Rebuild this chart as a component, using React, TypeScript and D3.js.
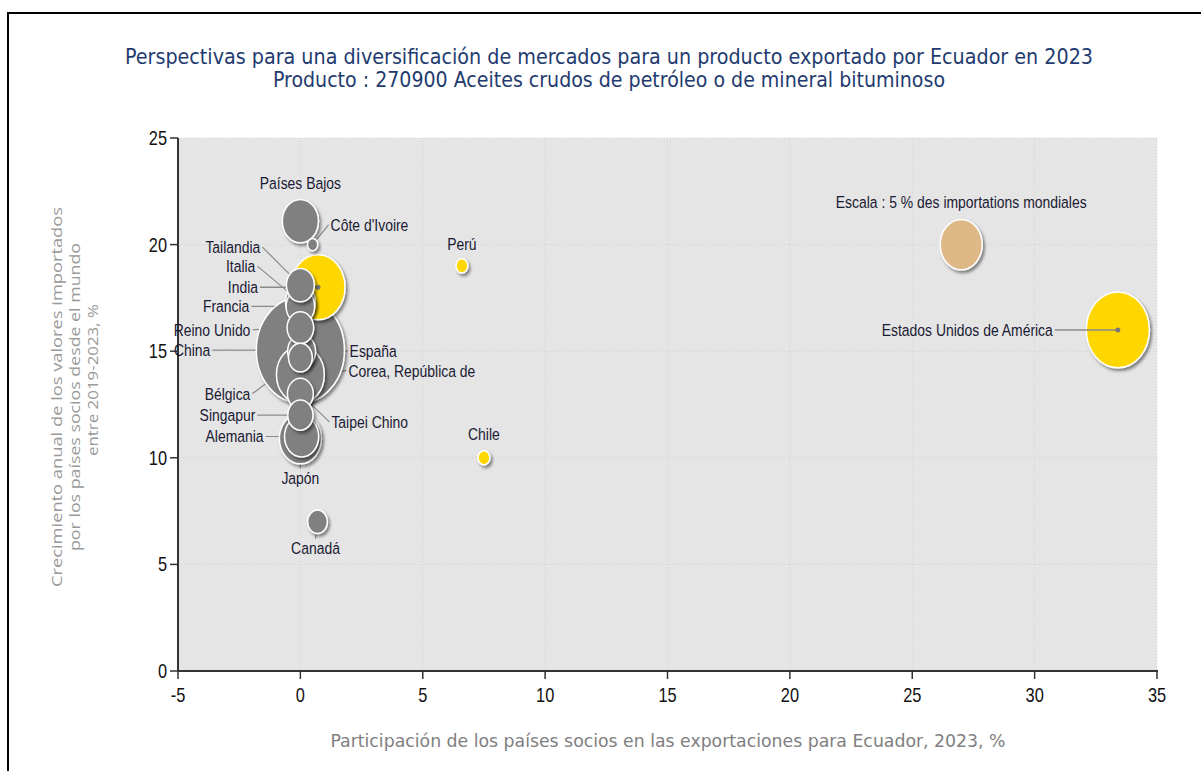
import React, { useEffect, useRef } from 'react';
import * as d3 from 'd3';

// data
const countries = ['China', 'Estados Unidos de América', 'India', 'Corea, República de', 'Japón', 'Países Bajos', 'Alemania', 'Italia', 'Francia', 'España', 'Tailandia', 'Reino Unido', 'Taipei Chino', 'Singapur', 'Bélgica', 'Canadá', 'Perú', 'Chile', "Côte d'Ivoire"];
const exportShare = [0, 33.4, 0.72, 0, 0, 0, 0.05, 0, 0, 0.05, 0, 0, 0, 0, 0, 0.7, 6.6, 7.5, 0.5];
const importGrowth = [15.05, 16.0, 18.0, 13.9, 10.9, 21.1, 11.0, 17.3, 17.1, 15.0, 18.1, 16.1, 13.0, 12.0, 14.7, 7.0, 19.0, 10.0, 20.0];
const worldImportShare = [22, 11.3, 8.3, 6.5, 5.0, 3.7, 3.3, 2.5, 2.3, 2.2, 2.2, 2.0, 1.9, 1.8, 1.6, 1.1, 0.4, 0.4, 0.3];
const highlighted = ['Estados Unidos de América', 'India', 'Perú', 'Chile'];

const xTicks = [-5, 0, 5, 10, 15, 20, 25, 30, 35];
const yTicks = [0, 5, 10, 15, 20, 25];

const scaleRef = { x: 27, y: 20, value: 5, label: 'Escala : 5 % des importations mondiales' };

const titleLines = [
  'Perspectivas para una diversificación de mercados para un producto exportado por Ecuador en 2023',
  'Producto : 270900 Aceites crudos de petróleo o de mineral bituminoso',
];
const xTitle = 'Participación de los países socios en las exportaciones para Ecuador, 2023, %';
const yTitle = ['Crecimiento anual de los valores importados', 'por los países socios desde el mundo', 'entre 2019-2023, %'];

// label placement: pixel offset from bubble centre, anchor, leader line?
const labelLayout: Record<string, [number, number, string, boolean]> = {
  'China': [-90, 0, 'end', true],
  'Estados Unidos de América': [-65, 0, 'end', true],
  'India': [-60, 0, 'end', true],
  'Corea, República de': [48, -4, 'start', true],
  'Japón': [0, 39, 'middle', true],
  'Países Bajos': [0, -38, 'middle', false],
  'Alemania': [-38, 0, 'end', true],
  'Italia': [-45, -36, 'end', true],
  'Francia': [-51, 0, 'end', true],
  'España': [48, 0, 'start', true],
  'Tailandia': [-40, -38, 'end', true],
  'Reino Unido': [-50, 2, 'end', true],
  'Taipei Chino': [31, 28, 'start', true],
  'Singapur': [-45, 0, 'end', true],
  'Bélgica': [-50, 36, 'end', true],
  'Canadá': [-2, 26, 'middle', true],
  'Perú': [0, -22, 'middle', false],
  'Chile': [0, -24, 'middle', false],
  "Côte d'Ivoire": [18, -20, 'start', true],
};

// Arial Narrow look-alike: Liberation Sans squeezed horizontally
const SANS = '"Liberation Sans", Arial, sans-serif';
const COND = '"DejaVu Sans Condensed", "Liberation Sans Narrow", sans-serif';

const App = () => {
  const svgRef = useRef<SVGSVGElement>(null);

  useEffect(() => {
    const svg = d3.select(svgRef.current);
    svg.selectAll('*').remove();

    const x = d3.scaleLinear().domain([-5, 35]).range([178, 1157]);
    const y = d3.scaleLinear().domain([0, 25]).range([671, 138]);
    const r = d3.scaleSqrt().domain([0, 5]).range([0, 21]);
    const aspect = 1.2; // bubbles come out slightly taller than wide

    const narrowText = (g: any, px: number, py: number, txt: string, anchor: string, size: number, fill = '#1a1a33') =>
      g.append('text')
        .attr('transform', `translate(${px},${py}) scale(0.82,1)`)
        .attr('text-anchor', anchor)
        .style('font-family', SANS).style('font-size', `${size}px`).style('fill', fill)
        .text(txt);

    // frame
    svg.append('line').attr('x1', 8).attr('x2', 8).attr('y1', 12).attr('y2', 771)
      .attr('stroke', '#000').attr('stroke-width', 2);
    svg.append('line').attr('x1', 7).attr('x2', 1201).attr('y1', 13).attr('y2', 13)
      .attr('stroke', '#000').attr('stroke-width', 2);

    const defs = svg.append('defs');
    const f = defs.append('filter').attr('id', 'shadow')
      .attr('x', '-30%').attr('y', '-30%').attr('width', '170%').attr('height', '170%');
    f.append('feDropShadow').attr('dx', 2).attr('dy', 2.5).attr('stdDeviation', 1.4)
      .attr('flood-color', '#000').attr('flood-opacity', 0.45);

    // title
    titleLines.forEach((t, i) => {
      svg.append('text')
        .attr('x', 609).attr('y', 64 + i * 23)
        .attr('text-anchor', 'middle')
        .attr('textLength', i === 0 ? 968 : 672)
        .attr('lengthAdjust', 'spacingAndGlyphs')
        .style('font-family', COND).style('font-size', '21px')
        .style('fill', '#1f3b6f')
        .text(t);
    });

    // plot background
    svg.append('rect').attr('x', x(-5)).attr('y', y(25))
      .attr('width', x(35) - x(-5)).attr('height', y(0) - y(25))
      .attr('fill', '#e5e5e5');

    // grid
    const grid = svg.append('g');
    xTicks.slice(1).forEach(t => {
      grid.append('line').attr('x1', x(t)).attr('x2', x(t)).attr('y1', y(25)).attr('y2', y(0))
        .attr('stroke', '#d2d2d2').attr('stroke-dasharray', '1,2');
    });
    yTicks.slice(1).forEach(t => {
      grid.append('line').attr('x1', x(-5)).attr('x2', x(35)).attr('y1', y(t)).attr('y2', y(t))
        .attr('stroke', '#d2d2d2').attr('stroke-dasharray', '1,2');
    });

    // axes
    const axisColor = '#333';
    svg.append('line').attr('x1', x(-5)).attr('x2', x(-5)).attr('y1', y(25)).attr('y2', y(0) + 1)
      .attr('stroke', axisColor).attr('stroke-width', 2);
    svg.append('line').attr('x1', x(-5) - 1).attr('x2', x(35) + 1).attr('y1', y(0)).attr('y2', y(0))
      .attr('stroke', axisColor).attr('stroke-width', 2);

    yTicks.forEach(t => {
      svg.append('line').attr('x1', x(-5) - 8).attr('x2', x(-5)).attr('y1', y(t)).attr('y2', y(t))
        .attr('stroke', axisColor).attr('stroke-width', 1.5);
      narrowText(svg, x(-5) - 11, y(t) + 7, String(t), 'end', 20, '#111');
    });
    xTicks.forEach(t => {
      svg.append('line').attr('x1', x(t)).attr('x2', x(t)).attr('y1', y(0)).attr('y2', y(0) + 8)
        .attr('stroke', axisColor).attr('stroke-width', 1.5);
      narrowText(svg, x(t), y(0) + 31, String(t), 'middle', 20, '#111');
    });

    // axis titles
    svg.append('text').attr('x', 668).attr('y', 747)
      .attr('text-anchor', 'middle')
      .attr('textLength', 675).attr('lengthAdjust', 'spacingAndGlyphs')
      .style('font-family', COND).style('font-size', '17px').style('fill', '#808080')
      .text(xTitle);

    const yLens = [380, 308, 152];
    const yCenters = [397, 397, 380];
    yTitle.forEach((t, i) => {
      svg.append('text')
        .attr('transform', `translate(${62 + i * 18},${yCenters[i]}) rotate(-90)`)
        .attr('text-anchor', 'middle')
        .attr('textLength', yLens[i]).attr('lengthAdjust', 'spacingAndGlyphs')
        .style('font-family', '"Open Sans", "DejaVu Sans", sans-serif')
        .style('font-size', '14.5px').style('fill', '#999')
        .text(t);
    });

    // bubbles
    const pts = countries.map((name, i) => {
      const rx = r(worldImportShare[i]);
      return {
        name,
        cx: x(exportShare[i]),
        cy: y(importGrowth[i]),
        rx,
        ry: rx * aspect,
        v: worldImportShare[i],
        hi: highlighted.includes(name),
      };
    });

    const leader = (p: typeof pts[0]) => {
      const [dx, dy, anchor] = labelLayout[p.name];
      const lx = p.cx + dx;
      const ly = p.cy + dy;
      let sx = lx, sy = ly;
      if (anchor === 'end') sx = lx + 2;
      else if (anchor === 'start') sx = lx - 2;
      else sy = dy < 0 ? ly + 8 : ly - 9;
      return [sx, sy];
    };

    const lineColor = '#8a8a8a';
    const lineLayer = svg.append('g');
    const bubbleLayer = svg.append('g');

    pts.filter(p => labelLayout[p.name][3] && !p.hi).forEach(p => {
      const [sx, sy] = leader(p);
      lineLayer.append('line').attr('x1', sx).attr('y1', sy).attr('x2', p.cx).attr('y2', p.cy)
        .attr('stroke', lineColor).attr('stroke-width', 1.2);
    });

    // scale bubble
    const srx = r(scaleRef.value);
    bubbleLayer.append('ellipse')
      .attr('cx', x(scaleRef.x)).attr('cy', y(scaleRef.y))
      .attr('rx', srx).attr('ry', srx * aspect)
      .attr('fill', '#deb887').attr('stroke', '#fff').attr('stroke-width', 1.5)
      .attr('filter', 'url(#shadow)');
    narrowText(svg, x(scaleRef.x), y(scaleRef.y) - 37, scaleRef.label, 'middle', 17);

    [...pts].sort((a, b) => b.v - a.v).forEach(p => {
      bubbleLayer.append('ellipse')
        .attr('cx', p.cx).attr('cy', p.cy).attr('rx', p.rx).attr('ry', p.ry)
        .attr('fill', p.hi ? '#ffd700' : '#808080')
        .attr('stroke', '#fff').attr('stroke-width', 1.5)
        .attr('filter', 'url(#shadow)');
      if (p.hi && labelLayout[p.name][3]) {
        const [sx, sy] = leader(p);
        bubbleLayer.append('line').attr('x1', sx).attr('y1', sy).attr('x2', p.cx).attr('y2', p.cy)
          .attr('stroke', lineColor).attr('stroke-width', 1.5);
        bubbleLayer.append('circle').attr('cx', p.cx).attr('cy', p.cy).attr('r', 2.5)
          .attr('fill', '#777');
      }
    });

    // labels
    pts.forEach(p => {
      const [dx, dy, anchor] = labelLayout[p.name];
      narrowText(svg, p.cx + dx, p.cy + dy + 6, p.name, anchor, 17);
    });
  }, []);

  return (
    <svg
      ref={svgRef}
      width={1201}
      height={771}
      style={{ position: 'absolute', left: 0, top: 0, background: '#fff' }}
    />
  );
};

export default App;
